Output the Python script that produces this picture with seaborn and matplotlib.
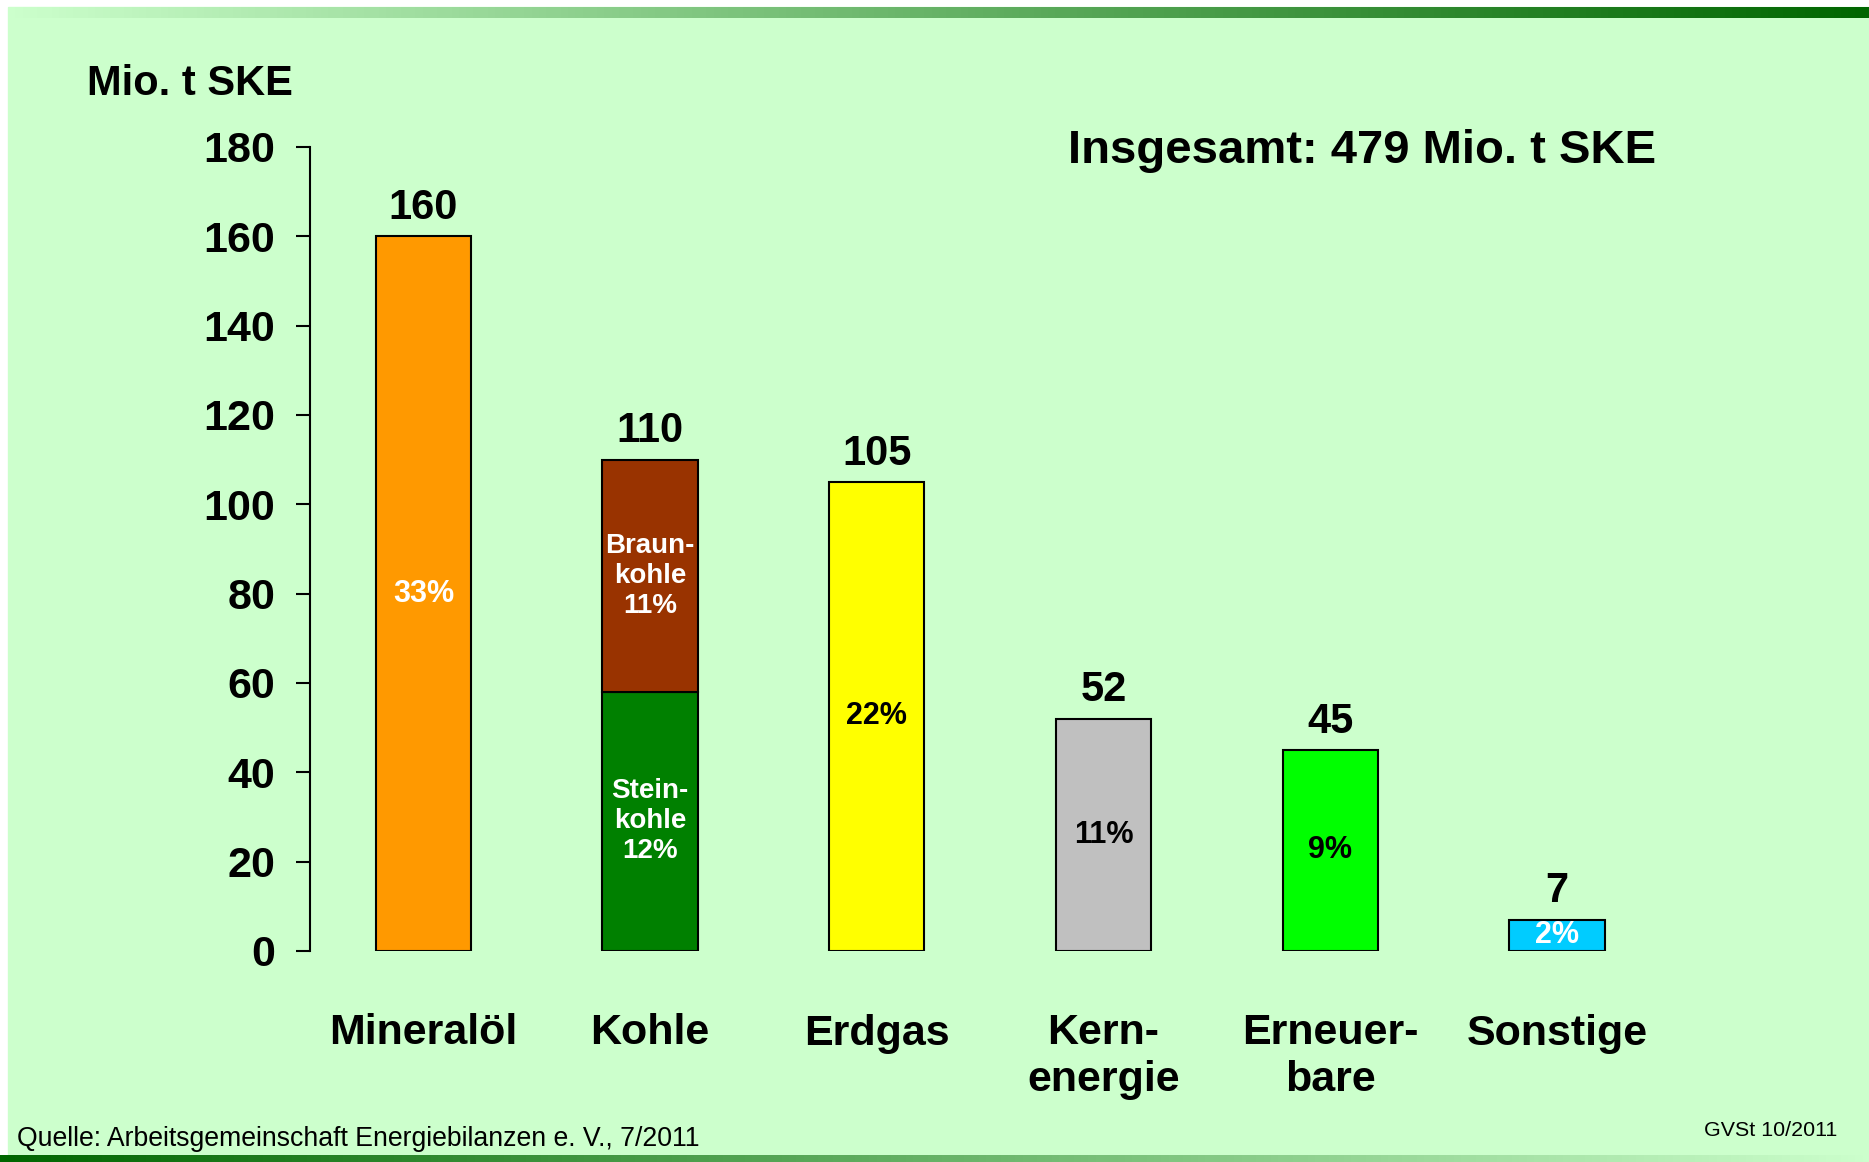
import seaborn as sns
import matplotlib.pyplot as plt
import matplotlib.colors as mcolors
import numpy as np
import pandas as pd

# --- data (Mio. t SKE, Primärenergieverbrauch 2010) ---
categories = ["Mineralöl", "Kohle", "Erdgas", "Kern-\nenergie", "Erneuer-\nbare", "Sonstige"]
base_values = [160, 58, 105, 52, 45, 7]          # Kohle base = Steinkohle
braunkohle = 52                                   # stacked on top of Steinkohle
totals = [160, 110, 105, 52, 45, 7]
share_labels = ["33%", "Stein-\nkohle\n12%", "22%", "11%", "9%", "2%"]
braun_label = "Braun-\nkohle\n11%"
bar_colors = ["#FF9900", "#008000", "#FFFF00", "#C0C0C0", "#00FF00", "#00CCFF"]
braun_color = "#993300"
share_text_colors = ["white", "white", "black", "black", "black", "white"]
y_ticks = [0, 20, 40, 60, 80, 100, 120, 140, 160, 180]

df = pd.DataFrame({"Energieträger": categories, "Wert": base_values})

# --- styling ---
sns.set_style("white")
plt.rcParams["font.family"] = ["Liberation Sans", "DejaVu Sans"]
plt.rcParams["font.weight"] = "bold"
for key in ["text.color", "axes.labelcolor", "xtick.color", "ytick.color"]:
    plt.rcParams[key] = "black"

W, H = 1869, 1162
fig = plt.figure(figsize=(W / 100, H / 100), dpi=100, facecolor="white")

# light green slide background
fig.add_artist(plt.Rectangle((8 / W, 0), 1 - 8 / W, 1 - 7 / H, transform=fig.transFigure,
                             color="#CCFFCC", zorder=-5))

# gradient bars top and bottom
grad = np.linspace(0, 1, 256).reshape(1, -1)
cmap_up = mcolors.LinearSegmentedColormap.from_list("g", ["#CCFFCC", "#006600"])
gtop = fig.add_axes([8 / W, 1 - 18 / H, 1 - 8 / W, 11 / H], zorder=-4)
gtop.imshow(grad, cmap=cmap_up, aspect="auto")
gtop.set_axis_off()
gbot = fig.add_axes([0, 0, 1, 7 / H], zorder=-4)
gbot.imshow(grad[:, ::-1], cmap=cmap_up, aspect="auto")
gbot.set_axis_off()

# --- main chart ---
ax = fig.add_axes([310 / W, 1 - 951 / H, 1383 / W, 804 / H])
ax.set_facecolor("none")

sns.barplot(data=df, x="Energieträger", y="Wert", hue="Energieträger",
            palette=bar_colors, saturation=1, legend=False, width=0.42,
            edgecolor="black", linewidth=1.5, ax=ax)
ax.bar(1, braunkohle, bottom=base_values[1], width=0.42, color=braun_color,
       edgecolor="black", linewidth=1.5)

# totals above bars
for i, t in enumerate(totals):
    ax.annotate(str(t), (i, t), xytext=(0, 6), textcoords="offset points",
                ha="center", va="bottom", fontsize=30, fontweight="bold")

# shares inside bars
for i, (v, lab) in enumerate(zip(base_values, share_labels)):
    fs = 20 if "\n" in lab else 22
    ax.text(i, v / 2, lab, ha="center", va="center", fontsize=fs,
            fontweight="bold", color=share_text_colors[i], linespacing=1.2)
ax.text(1, base_values[1] + braunkohle / 2, braun_label, ha="center", va="center",
        fontsize=20, fontweight="bold", color="white", linespacing=1.2)

# axes
ax.set_xlim(-0.5, 5.6)
ax.set_ylim(0, 180)
ax.set_yticks(y_ticks)
ax.tick_params(axis="y", left=True, direction="out", length=10, width=1.5, pad=15,
               labelsize=31)
ax.tick_params(axis="x", bottom=False, length=0, pad=45, labelsize=31)
for lbl in ax.get_xticklabels():
    lbl.set_linespacing(1.2)
    lbl.set_fontweight("bold")
for lbl in ax.get_yticklabels():
    lbl.set_fontweight("bold")
ax.set_xlabel("")
ax.set_ylabel("")
for s in ["top", "right", "bottom"]:
    ax.spines[s].set_visible(False)
ax.spines["left"].set_linewidth(1.5)
ax.spines["left"].set_color("black")

# texts
fig.text(87 / W, 1 - 95 / H, "Mio. t SKE", fontsize=30, fontweight="bold", va="baseline")
fig.text(1362 / W, 1 - 163 / H, "Insgesamt: 479 Mio. t SKE", fontsize=34,
         fontweight="bold", ha="center", va="baseline")
fig.text(17 / W, 1 - 1146 / H, "Quelle: Arbeitsgemeinschaft Energiebilanzen e. V., 7/2011",
         fontsize=19.2, fontweight="normal", va="baseline")
fig.text(1837 / W, 1 - 1136 / H, "GVSt 10/2011", fontsize=15.4, fontweight="normal",
         ha="right", va="baseline")

fig.savefig("out.png", dpi=100, facecolor=fig.get_facecolor())
plt.close(fig)
